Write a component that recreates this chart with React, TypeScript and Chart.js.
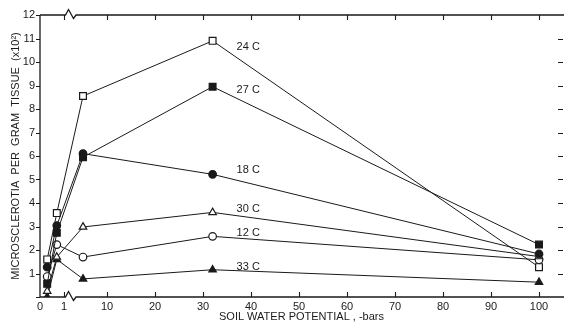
import React, { useEffect, useRef } from 'react';
import { Chart, registerables, LinearScale } from 'chart.js';

Chart.register(...registerables);

// ---- data ----
const X_TICKS = [0, 1, 10, 20, 30, 40, 50, 60, 70, 80, 90, 100];
const Y_TICKS = [0, 1, 2, 3, 4, 5, 6, 7, 8, 9, 10, 11, 12];
const X_VALUES = [0.3, 0.7, 5, 32, 100];
const SERIES_LABELS = ['24 C', '27 C', '18 C', '30 C', '12 C', '33 C'];
const T24 = [1.6, 3.57, 8.55, 10.9, 1.27];
const T27 = [0.56, 2.73, 5.95, 8.95, 2.23];
const T18 = [1.27, 3.04, 6.1, 5.22, 1.83];
const T30 = [0.25, 1.7, 2.98, 3.6, 1.72];
const T12 = [0.87, 2.23, 1.7, 2.58, 1.58];
const T33 = [0, 1.6, 0.77, 1.16, 0.63];

const SERIES = [T24, T27, T18, T30, T12, T33];
const MARKERS = ['rect', 'rect', 'circle', 'triangle', 'circle', 'triangle'];
const FILLED = [false, true, true, false, false, true];
const RADII = [4.8, 4.8, 3.8, 4.3, 3.8, 4.3];
const LABEL_DY = [6, 3, -4, -3, -3, -3];

const INK = '#1a1a1a';
const FONT = "'Liberation Sans', Arial, sans-serif";

// broken axis: 0..1 compressed at left, then linear from the break on
const LEFT_START = -3.96;
const LEFT_FACTOR = 5;
const AXIS_MAX = 105;
const toDisplay = (v: number) => (v <= 1 ? LEFT_START + v * LEFT_FACTOR : v);
const fromDisplay = (d: number) => (d <= LEFT_START + LEFT_FACTOR ? (d - LEFT_START) / LEFT_FACTOR : d);

class BrokenScale extends LinearScale {
  static id = 'broken';
  static defaults = LinearScale.defaults;
  buildTicks() {
    return X_TICKS.map((value) => ({ value }));
  }
  getPixelForValue(value: number) {
    return super.getPixelForValue(toDisplay(value));
  }
  getValueForPixel(pixel: number) {
    return fromDisplay(super.getValueForPixel(pixel) as number);
  }
}
Chart.register(BrokenScale as any);

const framePlugin = {
  id: 'frame',
  afterDraw(chart: any) {
    const { ctx, chartArea, scales } = chart;
    const { left, right, top, bottom } = chartArea;
    const x = scales.x;
    const y = scales.y;
    ctx.save();
    ctx.strokeStyle = INK;
    ctx.lineWidth = 1.3;
    const c = x.getPixelForValue(1) + 7;
    // left axis
    ctx.beginPath();
    ctx.moveTo(left, top);
    ctx.lineTo(left, bottom);
    ctx.stroke();
    // bottom & top axes with break
    for (const yy of [bottom, top]) {
      ctx.beginPath();
      ctx.moveTo(left, yy);
      ctx.lineTo(c - 5.5, yy);
      ctx.lineTo(c - 2.5, yy - 5.5);
      ctx.lineTo(c + 2.5, yy + 3.5);
      ctx.lineTo(c + 5, yy);
      ctx.lineTo(right + 2, yy);
      ctx.stroke();
    }
    ctx.lineWidth = 1.1;
    ctx.beginPath();
    for (const v of X_TICKS) {
      if (v === 0) continue;
      const px = Math.round(x.getPixelForValue(v)) + 0.5;
      ctx.moveTo(px, bottom);
      ctx.lineTo(px, bottom - 5);
      ctx.moveTo(px, top);
      ctx.lineTo(px, top + 5);
    }
    for (const v of Y_TICKS) {
      const py = Math.round(y.getPixelForValue(v)) + 0.5;
      ctx.moveTo(left - 4, py);
      ctx.lineTo(left, py);
      if (v > 0 && v < 12) {
        ctx.moveTo(right - 5, py);
        ctx.lineTo(right, py);
      }
    }
    ctx.stroke();
    // series labels
    ctx.fillStyle = INK;
    ctx.font = `11px ${FONT}`;
    ctx.textAlign = 'left';
    ctx.textBaseline = 'middle';
    SERIES.forEach((s, i) => {
      const px = x.getPixelForValue(X_VALUES[3]) + 24;
      const py = y.getPixelForValue(s[3]) + LABEL_DY[i];
      ctx.fillText(SERIES_LABELS[i], px, py);
    });
    ctx.restore();
  },
};

export default function App() {
  const ref = useRef<HTMLCanvasElement | null>(null);
  useEffect(() => {
    if (!ref.current) return;
    const datasets = SERIES.map((s, i) => ({
      label: SERIES_LABELS[i],
      data: s.map((v, j) => ({ x: X_VALUES[j], y: v })),
      borderColor: INK,
      borderWidth: 1,
      pointStyle: MARKERS[i],
      pointRadius: RADII[i],
      pointBorderWidth: 1.2,
      pointBorderColor: INK,
      pointBackgroundColor: FILLED[i] ? INK : '#ffffff',
      tension: 0,
      fill: false,
    }));
    const chart = new Chart(ref.current, {
      type: 'line',
      data: { datasets },
      plugins: [framePlugin],
      options: {
        responsive: false,
        animation: false,
        events: [],
        layout: { autoPadding: false, padding: { top: 15, right: 1, left: 0, bottom: 0 } },
        plugins: { legend: { display: false }, tooltip: { enabled: false } },
        scales: {
          x: {
            type: 'broken' as any,
            min: LEFT_START,
            max: AXIS_MAX,
            grid: { display: false, drawTicks: false },
            border: { display: false },
            afterFit: (s: any) => { s.height = 27; s.paddingLeft = 0; s.paddingRight = 0; },
            ticks: {
              autoSkip: false,
              maxRotation: 0,
              padding: 3,
              color: INK,
              font: { family: FONT, size: 11 },
              callback: (v: any) => String(v),
            },
            title: {
              display: true,
              text: 'SOIL WATER POTENTIAL , -bars',
              color: INK,
              font: { family: FONT, size: 11 },
              padding: { top: 0, bottom: 0 },
            },
          },
          y: {
            type: 'linear',
            min: 0,
            max: 12,
            grid: { display: false, drawTicks: false },
            border: { display: false },
            afterFit: (s: any) => { s.width = 40; s.paddingTop = 0; s.paddingBottom = 0; },
            afterBuildTicks: (s: any) => { s.ticks = Y_TICKS.map((value) => ({ value })); },
            ticks: {
              padding: 5,
              color: INK,
              font: { family: FONT, size: 11 },
              callback: (v: any) => (v === 0 ? '' : String(v)),
            },
            title: {
              display: true,
              text: 'MICROSCLEROTIA  PER  GRAM  TISSUE  (x10²)',
              color: INK,
              font: { family: FONT, size: 11 },
              padding: { top: 9, bottom: 0 },
            },
          },
        },
      },
    });
    return () => chart.destroy();
  }, []);
  return (
    <div style={{ position: 'fixed', left: 0, top: 0, width: 564, height: 324, background: '#fff' }}>
      <canvas ref={ref} width={564} height={324} style={{ width: 564, height: 324 }} />
    </div>
  );
}
